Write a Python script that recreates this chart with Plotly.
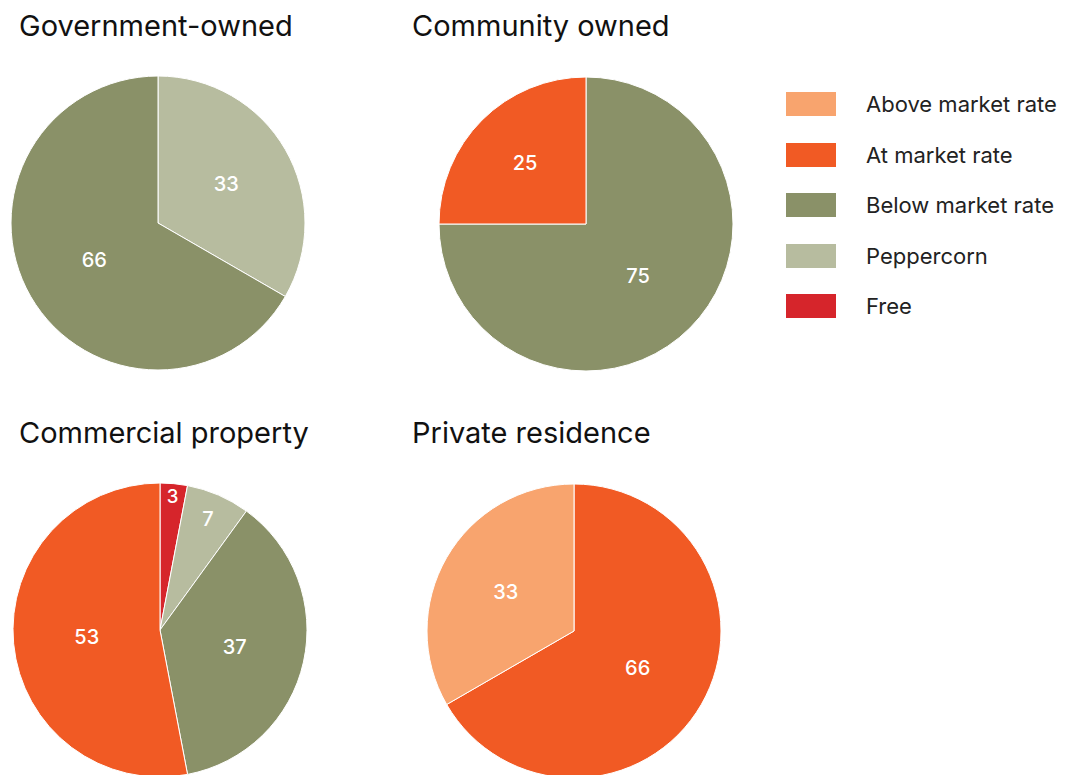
import plotly.graph_objects as go

W, H = 1065, 775
OFF = 8  # page body margin

categories = ["Above market rate", "At market rate", "Below market rate", "Peppercorn", "Free"]
colors = ["#f8a46e", "#f15a24", "#8a9168", "#b7bc9f", "#d6252b"]

titles = ["Government-owned", "Community owned", "Commercial property", "Private residence"]
gov_labels = ["Peppercorn", "Below market rate"]
gov_values = [33, 66]
com_labels = ["Below market rate", "At market rate"]
com_values = [75, 25]
cmr_labels = ["Free", "Peppercorn", "Below market rate", "At market rate"]
cmr_values = [3, 7, 37, 53]
prv_labels = ["At market rate", "Above market rate"]
prv_values = [66, 33]

cmap = dict(zip(categories, colors))
FONT = "Inter, Noto Sans, sans-serif"

# pie centres / radius in screen pixels
geo = [(158, 223, 147), (586, 224, 147), (160, 630, 147), (574, 631, 147)]
data = [(gov_labels, gov_values), (com_labels, com_values), (cmr_labels, cmr_values), (prv_labels, prv_values)]

def dom(cx, cy, r):
    cx -= OFF
    cy -= OFF
    x0, x1 = (cx - r) / W, (cx + r) / W
    y0, y1 = (H - cy - r) / H, (H - cy + r) / H
    return dict(x=[max(0, x0), min(1, x1)], y=[max(0, y0), min(1, y1)])

def px(x):
    return (x - OFF) / W

def py(y):
    return 1 - (y - OFF) / H

fig = go.Figure()
for (labels, values), (cx, cy, r) in zip(data, geo):
    fig.add_trace(go.Pie(
        labels=labels, values=values, sort=False, direction="clockwise", rotation=0,
        marker=dict(colors=[cmap[l] for l in labels], line=dict(color="white", width=1)),
        textinfo="value", textposition="inside", insidetextorientation="horizontal",
        insidetextfont=dict(color="white", size=20, family=FONT, weight=500),
        textfont=dict(color="white", size=20, family=FONT, weight=500),
        domain=dom(cx, cy, r), showlegend=False, hoverinfo="label+value",
    ))

ann = []
title_pos = [(18, 25), (411, 25), (18, 433), (411, 433)]
for t, (x, y) in zip(titles, title_pos):
    ann.append(dict(text=t, x=px(x - 1), y=py(y), xref="paper", yref="paper",
                    xanchor="left", yanchor="middle", showarrow=False,
                    font=dict(size=29, color="#111111", family=FONT)))

shapes = []
leg_y = [104, 155, 205, 256, 306]
for c, col, y in zip(categories, colors, leg_y):
    shapes.append(dict(type="rect", xref="paper", yref="paper",
                       x0=px(786), x1=px(836), y0=py(y + 12), y1=py(y - 12),
                       fillcolor=col, line=dict(width=0)))
    ann.append(dict(text=c, x=px(864), y=py(y), xref="paper", yref="paper",
                    xanchor="left", yanchor="middle", showarrow=False,
                    font=dict(size=22, color="#222222", family=FONT)))

fig.update_layout(width=W, height=H, margin=dict(l=0, r=0, t=0, b=0),
                  paper_bgcolor="white", plot_bgcolor="white",
                  annotations=ann, shapes=shapes, showlegend=False)
fig.write_html("out.html")
